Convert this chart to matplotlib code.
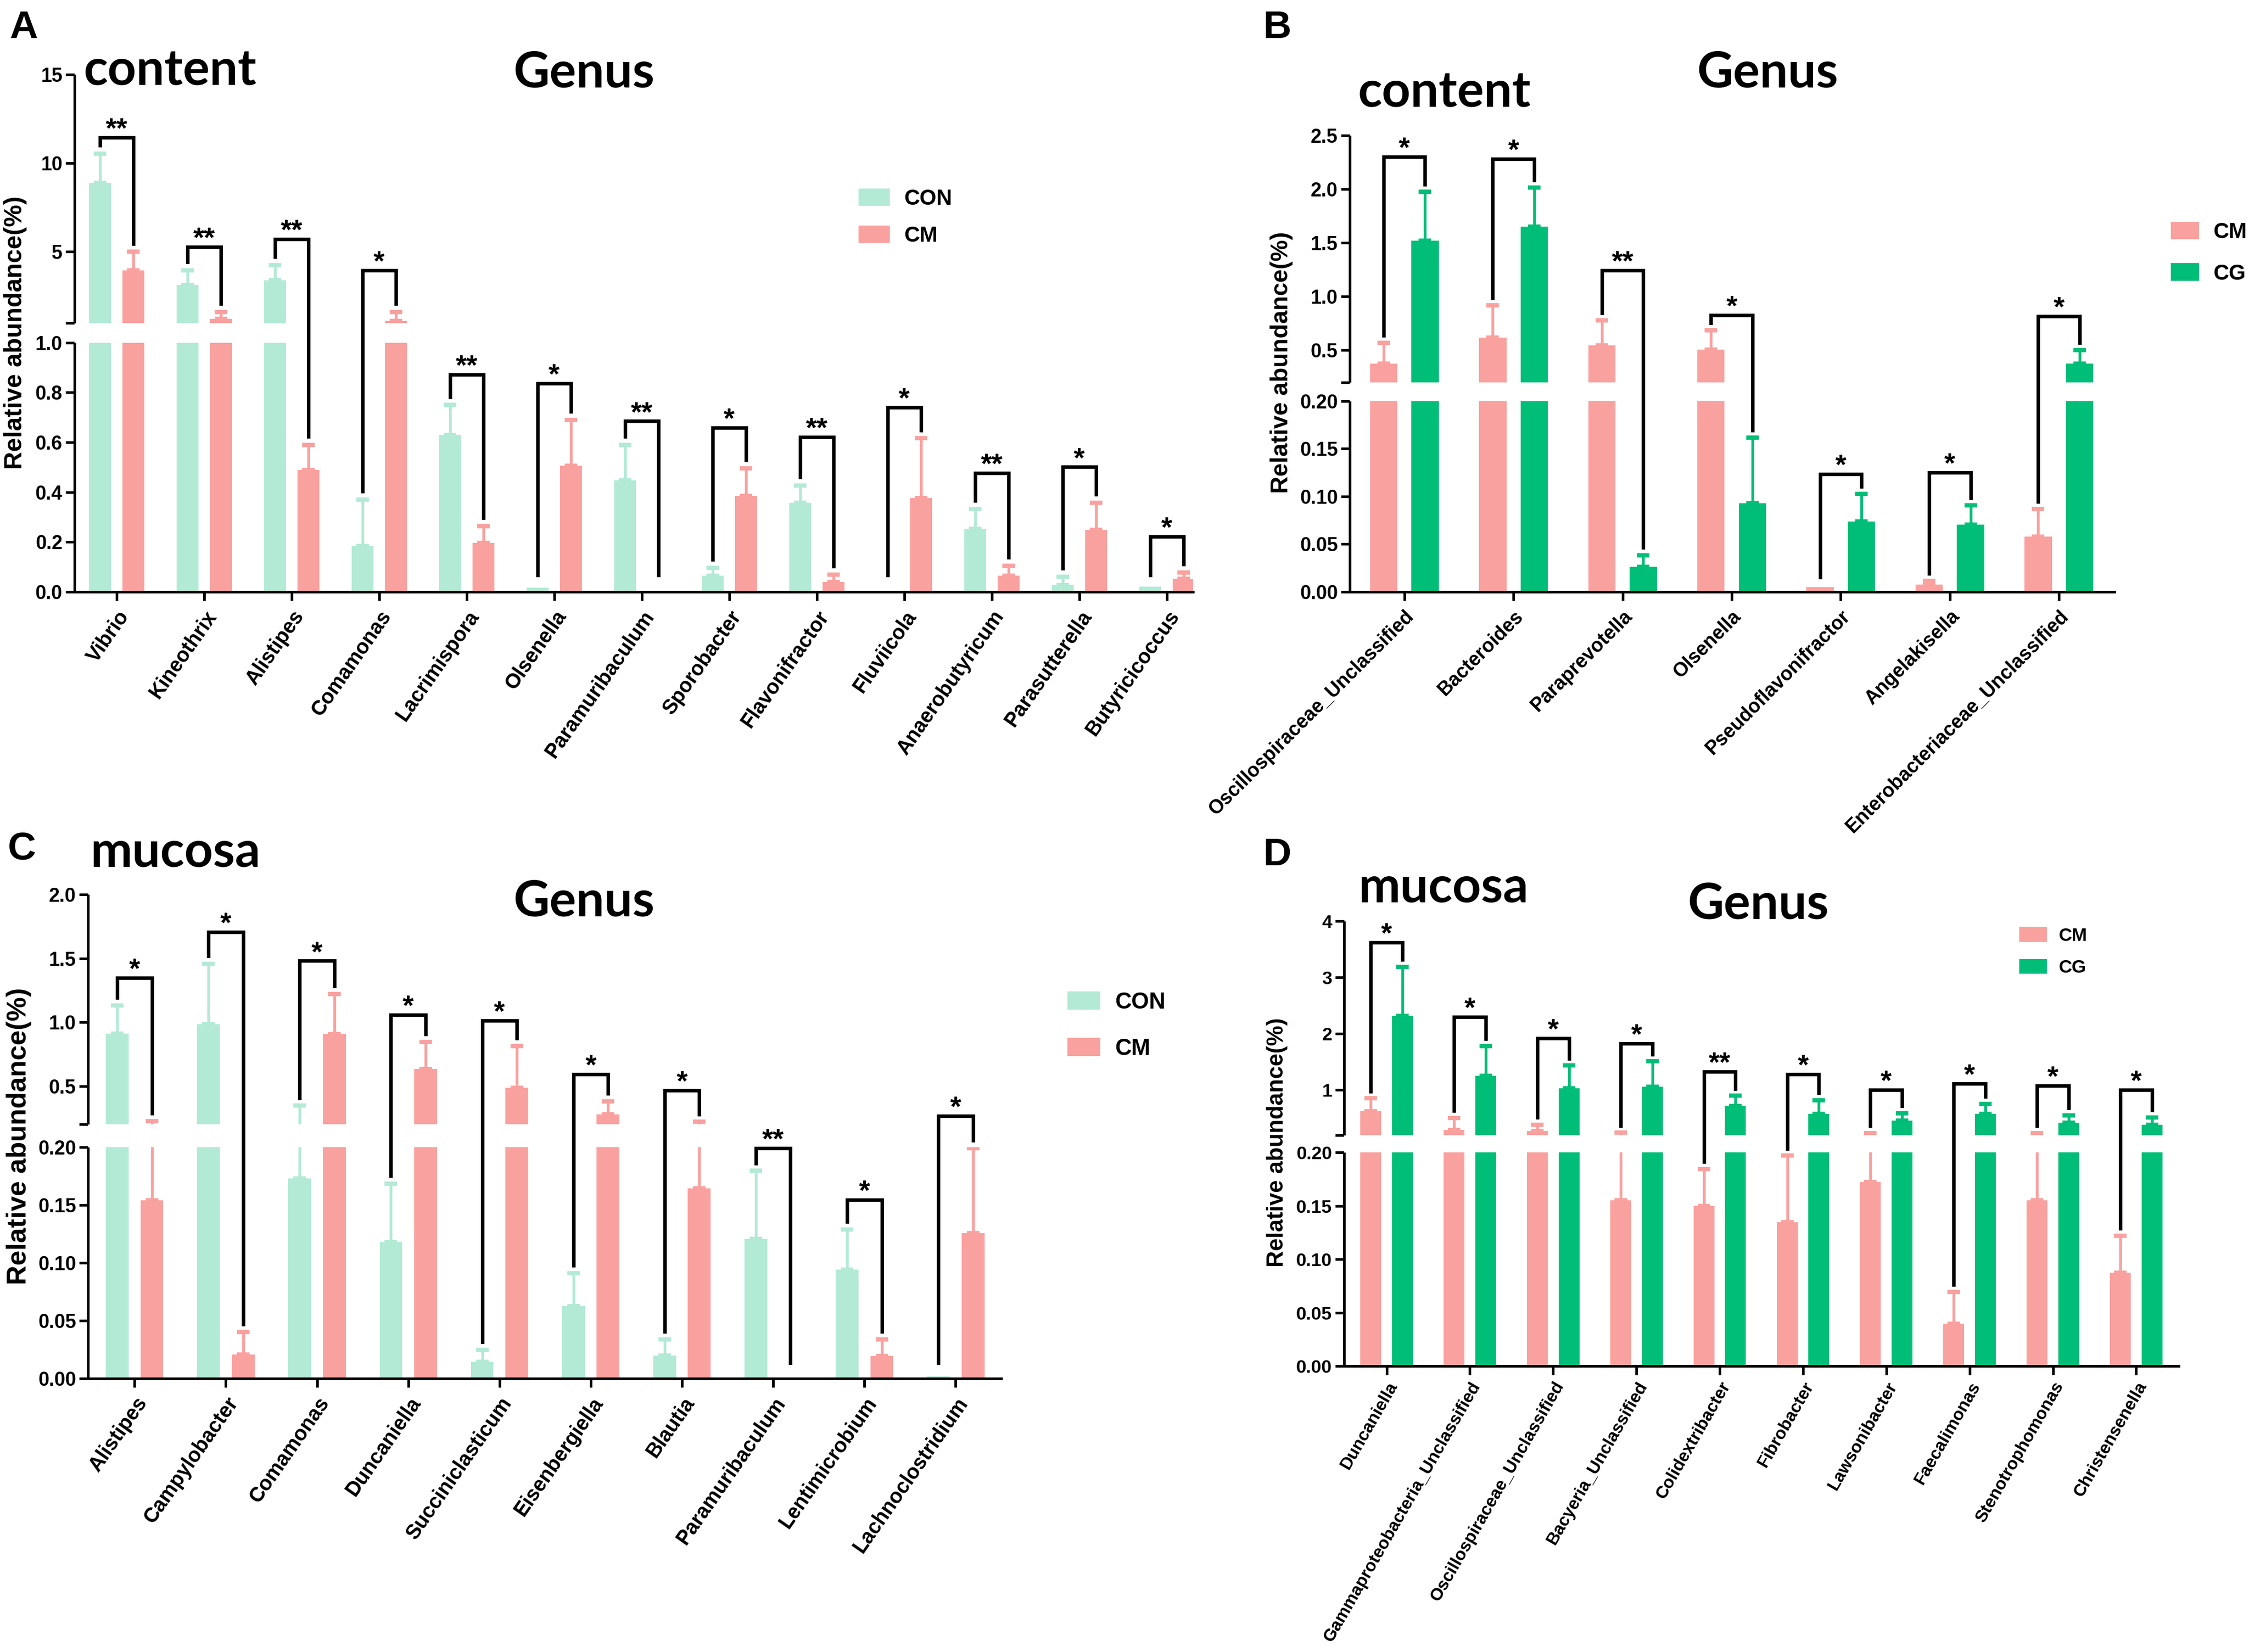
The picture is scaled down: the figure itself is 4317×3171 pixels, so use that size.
import numpy as np
import matplotlib
matplotlib.use("Agg")
import matplotlib.pyplot as plt
from matplotlib.patches import Patch

W, H = 4317, 3171
plt.rcParams['font.family'] = ['Liberation Sans', 'DejaVu Sans']
plt.rcParams['font.weight'] = 'bold'

MINT = '#b3ead6'
SALMON = '#f9a19f'
GREEN = '#00be78'

# ---------------- data ----------------
# panel A: content, CON vs CM
a_names = ['Vibrio', 'Kineothrix', 'Alistipes', 'Comamonas', 'Lacrimispora', 'Olsenella',
           'Paramuribaculum', 'Sporobacter', 'Flavonifractor', 'Fluviicola',
           'Anaerobutyricum', 'Parasutterella', 'Butyricicoccus']
a_con = [8.9, 3.13, 3.4, 0.184, 0.63, 0.016, 0.448, 0.064, 0.357, 0.0, 0.254, 0.027, 0.02]
a_con_sd = [1.65, 0.83, 0.86, 0.186, 0.12, 0.0, 0.142, 0.032, 0.07, 0.0, 0.079, 0.034, 0.0]
a_cm = [3.95, 1.22, 0.49, 1.10, 0.197, 0.507, 0.0, 0.384, 0.04, 0.376, 0.064, 0.248, 0.053]
a_cm_sd = [1.05, 0.38, 0.10, 0.50, 0.067, 0.183, 0.0, 0.112, 0.029, 0.24, 0.04, 0.109, 0.024]
a_bracket = [11.46, 5.27, 5.72, 3.96, 0.872, 0.837, 0.685, 0.659, 0.621, 0.741, 0.477, 0.501, 0.221]
a_stars = ['**', '**', '**', '*', '**', '*', '**', '*', '**', '*', '**', '*', '*']

# panel B: content, CM vs CG
b_names = ['Oscillospiraceae_Unclassified', 'Bacteroides', 'Paraprevotella', 'Olsenella',
           'Pseudoflavonifractor', 'Angelakisella', 'Enterobacteriaceae_Unclassified']
b_cm = [0.374, 0.619, 0.545, 0.504, 0.005, 0.0075, 0.0577]
b_cm_sd = [0.193, 0.301, 0.234, 0.182, 0.0, 0.0042, 0.029]
b_cg = [1.522, 1.652, 0.026, 0.093, 0.0736, 0.0707, 0.374]
b_cg_sd = [0.454, 0.361, 0.0125, 0.0685, 0.029, 0.0197, 0.126]
b_bracket = [2.303, 2.284, 1.243, 0.827, 0.1234, 0.125, 0.815]
b_stars = ['*', '*', '**', '*', '*', '*', '*']

# panel C: mucosa, CON vs CM
c_names = ['Alistipes', 'Campylobacter', 'Comamonas', 'Duncaniella', 'Succiniclasticum',
           'Eisenbergiella', 'Blautia', 'Paramuribaculum', 'Lentimicrobium', 'Lachnoclostridium']
c_con = [0.91, 0.984, 0.173, 0.118, 0.0142, 0.0628, 0.0198, 0.1207, 0.0942, 0.0017]
c_con_sd = [0.223, 0.475, 0.173, 0.0506, 0.0106, 0.0282, 0.0139, 0.0588, 0.0348, 0.0]
c_cm = [0.154, 0.0208, 0.907, 0.634, 0.485, 0.277, 0.1646, 0.0, 0.0192, 0.1256]
c_cm_sd = [0.071, 0.0195, 0.315, 0.211, 0.33, 0.104, 0.0554, 0.0, 0.0148, 0.0734]
c_bracket = [1.349, 1.706, 1.48, 1.058, 1.014, 0.592, 0.467, 0.199, 0.1544, 0.265]
c_stars = ['*', '*', '*', '*', '*', '*', '*', '**', '*', '*']

# panel D: mucosa, CM vs CG
d_names = ['Duncaniella', 'Gammaproteobacteria_Unclassified', 'Oscillospiraceae_Unclassified',
           'Bacyeria_Unclassified', 'Colidextribacter', 'Fibrobacter', 'Lawsonibacter',
           'Faecalimonas', 'Stenotrophomonas', 'Christensenella']
d_cm = [0.628, 0.289, 0.269, 0.155, 0.150, 0.1345, 0.1724, 0.0394, 0.155, 0.0873]
d_cm_sd = [0.223, 0.217, 0.115, 0.087, 0.0346, 0.0625, 0.0626, 0.03, 0.08, 0.0347]
d_cg = [2.313, 1.257, 1.027, 1.061, 0.716, 0.573, 0.458, 0.573, 0.418, 0.384]
d_cg_sd = [0.877, 0.522, 0.406, 0.447, 0.182, 0.244, 0.129, 0.183, 0.135, 0.129]
d_bracket = [3.62, 2.30, 1.92, 1.83, 1.325, 1.284, 1.0, 1.115, 1.08, 1.0]
d_stars = ['*', '*', '*', '*', '**', '*', '*', '*', '*', '*']


def px(x, y):
    return x / W, 1 - y / H


def broken_funcs(b, top, L, G):
    U = 1 - L - G

    def fwd(v):
        v = np.asarray(v, float)
        return np.where(v <= b, v / b * L, L + G + (v - b) / (top - b) * U)

    def inv(t):
        t = np.asarray(t, float)
        return np.where(t <= L, t / L * b,
                        np.where(t < L + G, b, b + (t - L - G) / U * (top - b)))
    return fwd, inv


def draw_panel(rect, names, v1, e1, v2, e2, c1, c2, b, top, L, G,
               lo_ticks, lo_labels, hi_ticks, hi_labels, br_tops, stars,
               xlim, rot, xfs, yfs, xpad=3):
    ax = fig.add_axes(rect)
    fwd, inv = broken_funcs(b, top, L, G)
    ax.set_yscale('function', functions=(fwd, inv))
    ax.set_ylim(0, top)
    x = np.arange(len(names))
    off, w = 0.19, 0.25
    v1, e1, v2, e2 = map(np.asarray, (v1, e1, v2, e2))
    ax.bar(x - off, v1, w, color=c1, zorder=2)
    ax.bar(x + off, v2, w, color=c2, zorder=2)
    for xs, v, e, c in ((x - off, v1, e1, c1), (x + off, v2, e2, c2)):
        m = e > 0
        ax.errorbar(xs[m], v[m], yerr=[np.zeros(m.sum()), e[m]], fmt='none',
                    ecolor=c, elinewidth=1.3, capsize=2.8, capthick=2.0, zorder=2.5)
    eps = 1e-9
    # white band for the axis break
    ax.axhspan(b, b + eps, color='white', lw=0, zorder=3)

    ax.set_xlim(*xlim)
    ax.spines['top'].set_visible(False)
    ax.spines['right'].set_visible(False)
    ax.spines['left'].set_visible(False)
    ax.spines['bottom'].set_linewidth(1.2)
    ax.spines['bottom'].set_zorder(5)
    ax.plot([0, 0], [0, L], transform=ax.transAxes, color='k', lw=1.2,
            clip_on=False, zorder=5, solid_capstyle='butt')
    ax.plot([0, 0], [L + G, 1], transform=ax.transAxes, color='k', lw=1.2,
            clip_on=False, zorder=5, solid_capstyle='butt')

    ticks = list(lo_ticks) + [b + eps] + list(hi_ticks)
    labels = list(lo_labels) + [''] + list(hi_labels)
    ax.set_yticks(ticks)
    ax.set_yticklabels(labels)
    ax.yaxis.set_minor_locator(matplotlib.ticker.NullLocator())
    ax.tick_params(axis='y', direction='out', length=4, width=1.2, labelsize=yfs, pad=1.5)
    ax.set_xticks(x)
    ax.set_xticklabels(names, rotation=rot, ha='right', rotation_mode='anchor', fontsize=xfs)
    ax.tick_params(axis='x', direction='out', length=4, width=1.2, pad=xpad)

    # significance brackets
    tr = ax.get_xaxis_transform()
    pad = 0.016
    for i in range(len(names)):
        y1 = max(float(fwd(v1[i] + e1[i])) + pad, 0.032)
        y2 = max(float(fwd(v2[i] + e2[i])) + pad, 0.032)
        yt = float(fwd(br_tops[i]))
        ax.plot([i - off, i - off, i + off, i + off], [y1, yt, yt, y2], color='k',
                lw=1.6, transform=tr, clip_on=False, zorder=6, solid_joinstyle='miter')
        ax.text(i, yt, stars[i], transform=tr, ha='center', va='baseline',
                fontsize=13, fontweight='bold', zorder=6)
    return ax


fig = plt.figure(figsize=(W / 300, H / 300), dpi=300)


def rect(l, r, b, t):
    return [l / W, 1 - b / H, (r - l) / W, (b - t) / H]


lo5 = [0, 0.05, 0.10, 0.15, 0.20]
lo5_lab = ['0.00', '0.05', '0.10', '0.15', '0.20']

draw_panel(rect(143, 2290, 1136, 143), a_names, a_con, a_con_sd, a_cm, a_cm_sd, MINT, SALMON,
           1.0, 15, 0.4815, 0.0385,
           [0, 0.2, 0.4, 0.6, 0.8, 1.0], ['0.0', '0.2', '0.4', '0.6', '0.8', '1.0'],
           [5, 10, 15], ['5', '10', '15'], a_bracket, a_stars, (-0.48, 12.3), 55, 9.5, 9)

draw_panel(rect(2591, 4059, 1136, 260), b_names, b_cm, b_cm_sd, b_cg, b_cg_sd, SALMON, GREEN,
           0.2, 2.5, 0.418, 0.041, lo5, lo5_lab,
           [0.5, 1.0, 1.5, 2.0, 2.5], ['0.5', '1.0', '1.5', '2.0', '2.5'],
           b_bracket, b_stars, (-0.5, 6.51), 45, 9, 9)

draw_panel(rect(169, 1922, 2646, 1717), c_names, c_con, c_con_sd, c_cm, c_cm_sd, MINT, SALMON,
           0.2, 2.0, 0.478, 0.047, lo5, lo5_lab,
           [0.5, 1.0, 1.5, 2.0], ['0.5', '1.0', '1.5', '2.0'],
           c_bracket, c_stars, (-0.51, 9.5), 55, 9.5, 9)

draw_panel(rect(2580, 4182, 2622, 1768), d_names, d_cm, d_cm_sd, d_cg, d_cg_sd, SALMON, GREEN,
           0.2, 4.0, 0.48, 0.039, lo5, lo5_lab,
           [1, 2, 3, 4], ['1', '2', '3', '4'],
           d_bracket, d_stars, (-0.51, 9.51), 60, 8, 8.5, xpad=2)

# y labels
for (xx, yy, fs) in [(30, 639, 11.5), (2460, 696, 11), (37, 2181, 12.5), (2452, 2193, 10.5)]:
    fig.text(*px(xx, yy), 'Relative abundance(%)', rotation=90, ha='center', va='center',
             fontsize=fs, fontweight='bold')

# panel letters
for (xx, yy, s) in [(18, 73, 'A'), (2425, 73, 'B'), (15, 1649, 'C'), (2425, 1661, 'D')]:
    fig.text(*px(xx, yy), s, ha='left', va='baseline', fontsize=18, fontweight='bold')

# titles
tfont = ['Lato', 'DejaVu Sans']
for (xx, yy, s, ha) in [(161, 164, 'content', 'left'), (1121, 168, 'Genus', 'center'),
                        (2607, 205, 'content', 'left'), (3393, 168, 'Genus', 'center'),
                        (173, 1664, 'mucosa', 'left'), (1121, 1759, 'Genus', 'center'),
                        (2607, 1732, 'mucosa', 'left'), (3375, 1763, 'Genus', 'center')]:
    fig.text(*px(xx, yy), s, ha=ha, va='baseline', fontsize=23, fontweight='bold', family=tfont)

# legends
for (xx, yy, n1, c1, n2, c2, fs, hl, ls) in [
        (1650, 362, 'CON', MINT, 'CM', SALMON, 10, 1.35, 0.75),
        (4169, 426, 'CM', SALMON, 'CG', GREEN, 10, 1.2, 0.95),
        (2051, 1904, 'CON', MINT, 'CM', SALMON, 10.5, 1.35, 1.1),
        (3878, 1780, 'CM', SALMON, 'CG', GREEN, 8.5, 1.37, 0.8)]:
    fig.legend(handles=[Patch(color=c1, label=n1), Patch(color=c2, label=n2)],
               loc='upper left', bbox_to_anchor=px(xx, yy), frameon=False,
               fontsize=fs, handlelength=hl, handleheight=0.7, handletextpad=0.7,
               labelspacing=ls, borderpad=0, borderaxespad=0)

fig.savefig('out.png', dpi=300)
